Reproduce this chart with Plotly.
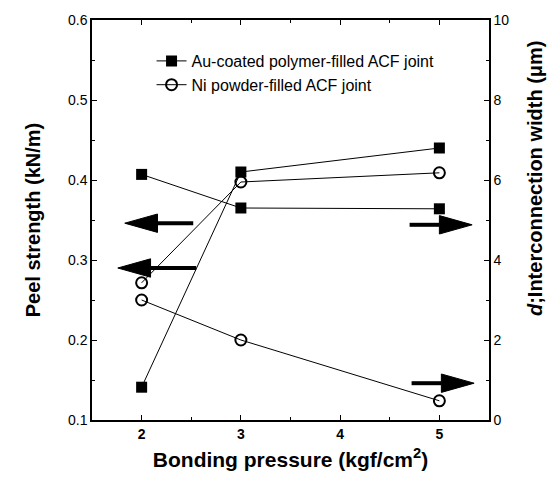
import plotly.graph_objects as go

pressure = [2, 3, 5]
au_peel = [0.407, 0.365, 0.364]
au_width = [0.82, 6.2, 6.8]
ni_peel = [0.25, 0.20, 0.124]
ni_width = [3.43, 5.95, 6.18]

au_name = "Au-coated polymer-filled ACF joint"
ni_name = "Ni powder-filled ACF joint"
right_title = "<i>d</i>;Interconnection width (μm)"

FONT = "Liberation Sans, Arial, sans-serif"

fig = go.Figure()

sq = dict(symbol="square", size=11, color="black")
circ = dict(symbol="circle-open", size=11, color="black", line=dict(width=2, color="black"))
ln = dict(color="black", width=1)

fig.add_trace(go.Scatter(x=pressure, y=au_peel, mode="lines+markers", marker=sq, line=ln,
                         name=au_name, legendgroup="au", showlegend=True))
fig.add_trace(go.Scatter(x=pressure, y=ni_peel, mode="lines+markers", marker=circ, line=ln,
                         name=ni_name, legendgroup="ni", showlegend=True))
fig.add_trace(go.Scatter(x=pressure, y=au_width, mode="lines+markers", marker=sq, line=ln,
                         name=au_name, legendgroup="au", showlegend=False, yaxis="y2"))
fig.add_trace(go.Scatter(x=pressure, y=ni_width, mode="lines+markers", marker=circ, line=ln,
                         name=ni_name, legendgroup="ni", showlegend=False, yaxis="y2"))

# arrows: (tail_x, tip_x, y) in data coordinates of the left axis
arrows = [(2.52, 1.83, 0.346), (2.55, 1.76, 0.290), (4.70, 5.33, 0.344), (4.72, 5.35, 0.146)]
head_len = 0.33
head_half = 0.0115
shapes = []
for tail, tip, yv in arrows:
    d = 1 if tip > tail else -1
    back = tip - d * head_len
    shapes.append(dict(type="line", xref="x", yref="y", x0=tail, x1=back, y0=yv, y1=yv,
                       line=dict(color="black", width=4)))
    shapes.append(dict(type="path", xref="x", yref="y",
                       path=f"M{tip},{yv} L{back},{yv + head_half} L{back},{yv - head_half} Z",
                       fillcolor="black", line=dict(color="black", width=1)))

axis_common = dict(showline=True, linecolor="black", linewidth=1.5, ticks="inside",
                   tickcolor="black", ticklen=5, tickwidth=1.2, showgrid=False, zeroline=False)

fig.update_layout(
    width=556, height=481,
    margin=dict(l=92, r=67, t=20, b=61),
    paper_bgcolor="white", plot_bgcolor="white",
    font=dict(family=FONT, color="black", size=14),
    shapes=shapes,
    showlegend=True,
    legend=dict(x=0.15, y=0.94, xanchor="left", yanchor="top", bgcolor="rgba(0,0,0,0)",
                font=dict(size=16, family=FONT), tracegroupgap=0, itemwidth=30),
    xaxis=dict(range=[1.5, 5.5], dtick=1, tick0=2, mirror="ticks",
               minor=dict(dtick=0.5, ticks="inside", ticklen=3, tickcolor="black"),
               tickfont=dict(size=14, family=FONT, weight="bold"),
               title=dict(text="Bonding pressure (kgf/cm<sup>2</sup>)",
                          font=dict(size=21, family=FONT, weight="bold"), standoff=12),
               **axis_common),
    yaxis=dict(range=[0.1, 0.6], dtick=0.1, tickformat=".1f",
               minor=dict(dtick=0.05, ticks="inside", ticklen=3, tickcolor="black"),
               tickfont=dict(size=14, family=FONT),
               title=dict(text="Peel strength (kN/m)",
                          font=dict(size=20, family=FONT, weight="bold"), standoff=22),
               **axis_common),
    yaxis2=dict(range=[0, 10], dtick=2, overlaying="y", side="right",
                minor=dict(dtick=1, ticks="inside", ticklen=3, tickcolor="black"),
                tickfont=dict(size=14, family=FONT),
                **axis_common),
    annotations=[dict(text=right_title, xref="paper", yref="paper", x=1.116, y=0.605,
                      xanchor="center", yanchor="middle", textangle=-90, showarrow=False,
                      font=dict(size=20, family=FONT, weight="bold"))],
)

fig.write_html("out.html")
